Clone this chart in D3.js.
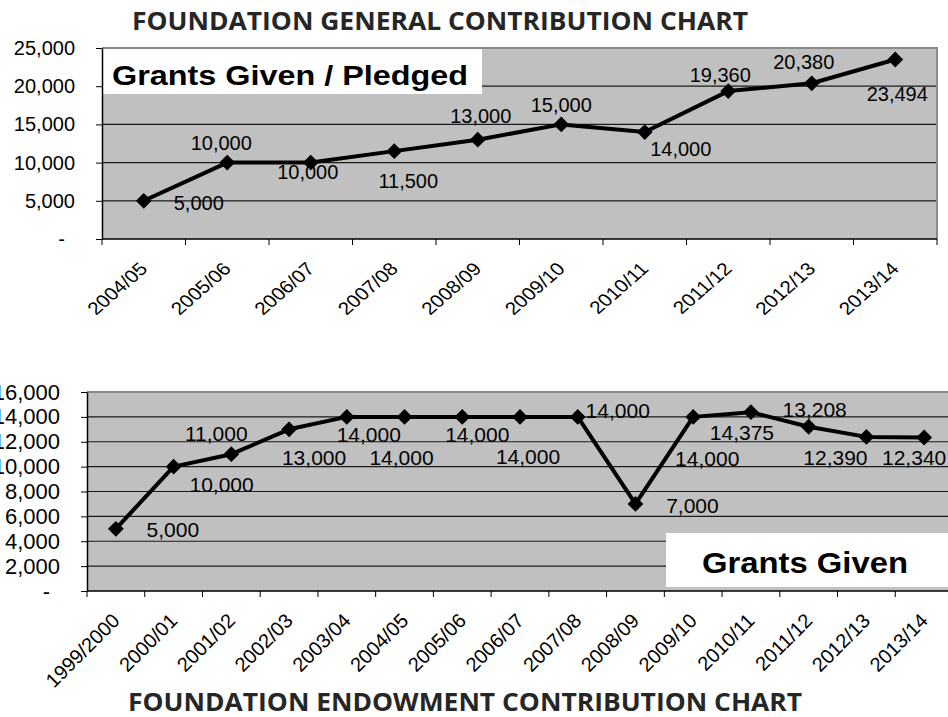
<!DOCTYPE html>
<html>
<head>
<meta charset="utf-8">
<script src="https://cdn.jsdelivr.net/npm/d3@7"></script>
<style>
  body { margin: 0; background: #fff; }
  svg { display: block; }
</style>
</head>
<body>
<svg id="chart" width="948" height="717"></svg>
<script>
const generalYears = ["2004/05", "2005/06", "2006/07", "2007/08", "2008/09", "2009/10", "2010/11", "2011/12", "2012/13", "2013/14"];
const generalGrants = [5000, 10000, 10000, 11500, 13000, 15000, 14000, 19360, 20380, 23494];
const generalTicks = [0, 5000, 10000, 15000, 20000, 25000];

const endowYears = ["1999/2000", "2000/01", "2001/02", "2002/03", "2003/04", "2004/05", "2005/06", "2006/07", "2007/08", "2008/09", "2009/10", "2010/11", "2011/12", "2012/13", "2013/14"];
const endowGrants = [5000, 10000, 11000, 13000, 14000, 14000, 14000, 14000, 14000, 7000, 14000, 14375, 13208, 12390, 12340];
const endowTicks = [0, 2000, 4000, 6000, 8000, 10000, 12000, 14000, 16000];

// where each data label sits relative to its marker (dx, dy), as in the original sheet
const generalLabelNudge = [[55, 9], [-6, -13], [-3, 16], [14, 37], [3, -17], [0, -12], [36, 24], [-8, -9], [-8, -14], [2, 41]];
const endowLabelNudge = [[57, 8], [48, 25], [-15, -13], [25, 36], [22, 25], [-3, 48], [15, 25], [8, 47], [40, 1], [57, 9], [14, 49], [-9, 28], [6, -10], [-31, 28], [-10, 27]];

const FONT = '"Liberation Sans", Arial, sans-serif';
const TITLE_FONT = '"Open Sans", "DejaVu Sans", sans-serif';
const fmtAxis = d => d === 0 ? "-" : d3.format(",")(d);

class GrantChart {
    constructor(svg, cfg) {
        this.g = svg.append("g");
        this.cfg = cfg;
        this.x = d3.scaleBand().domain(cfg.years).range([cfg.left, cfg.right]);
        this.y = d3.scaleLinear().domain([0, d3.max(cfg.ticks)]).range([cfg.bottom, cfg.top]);
    }

    draw() {
        const c = this.cfg, x = this.x, y = this.y, g = this.g;
        const cx = d => x(d.yr) + x.bandwidth() / 2;
        const pts = c.years.map((yr, i) => ({ yr, v: c.values[i], nudge: c.nudge[i] }));

        g.append("rect")
            .attr("x", c.left).attr("y", c.top)
            .attr("width", c.right - c.left).attr("height", c.bottom - c.top)
            .attr("fill", "#c0c0c0");

        g.selectAll(".grid")
            .data(c.ticks.filter(t => t > 0 && t < d3.max(c.ticks)))
            .join("line")
            .attr("class", "grid")
            .attr("x1", c.left).attr("x2", c.right)
            .attr("y1", d => y(d)).attr("y2", d => y(d))
            .attr("stroke", "#1a1a1a").attr("stroke-width", 1.2);

        // white caption box inside the plot
        const b = c.caption;
        g.append("rect")
            .attr("x", b.x).attr("y", b.y).attr("width", b.w).attr("height", b.h)
            .attr("fill", "#fff");
        g.append("text")
            .attr("x", b.tx).attr("y", b.ty)
            .attr("font-family", FONT).attr("font-weight", "bold")
            .attr("font-size", b.size)
            .attr("textLength", b.len).attr("lengthAdjust", "spacingAndGlyphs")
            .text(b.text);

        g.append("path")
            .attr("d", `M${c.left},${c.top}H${c.right}V${c.bottom}`)
            .attr("fill", "none").attr("stroke", "#8a8a8a").attr("stroke-width", 2);

        // y axis
        g.append("g")
            .attr("transform", `translate(${c.left},0)`)
            .call(d3.axisLeft(y).tickValues(c.ticks).tickFormat(fmtAxis).tickSize(6).tickSizeOuter(0).tickPadding(21))
            .call(a => a.select(".domain").attr("stroke-width", 1.5))
            .call(a => a.selectAll("text")
                .attr("font-family", FONT).attr("font-size", c.yFont).attr("fill", "#000")
                .attr("dx", d => d === 0 ? -10 : 0));

        // x axis: ticks sit on the category edges
        const edges = c.years.map(d => x(d)).concat([c.right]);
        g.append("line")
            .attr("x1", c.left).attr("x2", c.right)
            .attr("y1", c.bottom).attr("y2", c.bottom)
            .attr("stroke", "#000").attr("stroke-width", 1.5);
        g.selectAll(".xtick")
            .data(edges)
            .join("line")
            .attr("class", "xtick")
            .attr("x1", d => d).attr("x2", d => d)
            .attr("y1", c.bottom).attr("y2", c.bottom + 6)
            .attr("stroke", "#000");
        g.selectAll(".xlab")
            .data(c.years)
            .join("text")
            .attr("class", "xlab")
            .attr("transform", d => `translate(${x(d) + x.bandwidth() / 2 + 5},${c.bottom + 31}) scale(${c.xStretch},1) rotate(-45)`)
            .attr("text-anchor", "end")
            .attr("font-family", FONT).attr("font-size", c.xFont)
            .text(d => d);

        const line = d3.line().x(cx).y(d => y(d.v));
        g.append("path")
            .datum(pts)
            .attr("d", line)
            .attr("fill", "none").attr("stroke", "#000")
            .attr("stroke-width", 4).attr("stroke-linejoin", "round");

        g.selectAll(".mark")
            .data(pts)
            .join("path")
            .attr("class", "mark")
            .attr("d", d3.symbol(d3.symbolSquare, 125))
            .attr("transform", d => `translate(${cx(d)},${y(d.v)}) rotate(45)`)
            .attr("fill", "#000");

        g.selectAll(".val")
            .data(pts)
            .join("text")
            .attr("class", "val")
            .attr("x", d => cx(d) + d.nudge[0])
            .attr("y", d => y(d.v) + d.nudge[1])
            .attr("text-anchor", "middle")
            .attr("font-family", FONT).attr("font-size", c.labelFont)
            .text(d => d3.format(",")(d.v));
    }
}

const svg = d3.select("#chart");

new GrantChart(svg, {
    years: generalYears, values: generalGrants, ticks: generalTicks, nudge: generalLabelNudge,
    left: 102, right: 937, top: 48, bottom: 239,
    yFont: 20, xFont: 18, xStretch: 1.15, labelFont: 20,
    caption: { x: 102, y: 48, w: 380, h: 46, tx: 112, ty: 85, size: 28, len: 356, text: "Grants Given / Pledged" }
}).draw();

new GrantChart(svg, {
    years: endowYears, values: endowGrants, ticks: endowTicks, nudge: endowLabelNudge,
    left: 87, right: 953, top: 392, bottom: 591,
    yFont: 22, xFont: 20, xStretch: 1, labelFont: 21,
    caption: { x: 666, y: 533, w: 287, h: 54, tx: 702, ty: 573, size: 30, len: 206, text: "Grants Given" }
}).draw();

// chart titles, stretched to the original's width
const topTitle = svg.append("text")
    .attr("x", 132).attr("y", 30)
    .attr("font-family", TITLE_FONT).attr("font-weight", "bold")
    .attr("font-size", 25).attr("fill", "#262626")
    .text("FOUNDATION GENERAL CONTRIBUTION CHART");
const bottomTitle = svg.append("text")
    .attr("x", 128).attr("y", 711)
    .attr("font-family", TITLE_FONT).attr("font-weight", "bold")
    .attr("font-size", 25).attr("fill", "#262626")
    .text("FOUNDATION ENDOWMENT CONTRIBUTION CHART");
const stretch = 616 / topTitle.node().getComputedTextLength();
topTitle.attr("textLength", 616).attr("lengthAdjust", "spacingAndGlyphs");
bottomTitle.attr("textLength", bottomTitle.node().getComputedTextLength() * stretch).attr("lengthAdjust", "spacingAndGlyphs");
</script>
</body>
</html>
